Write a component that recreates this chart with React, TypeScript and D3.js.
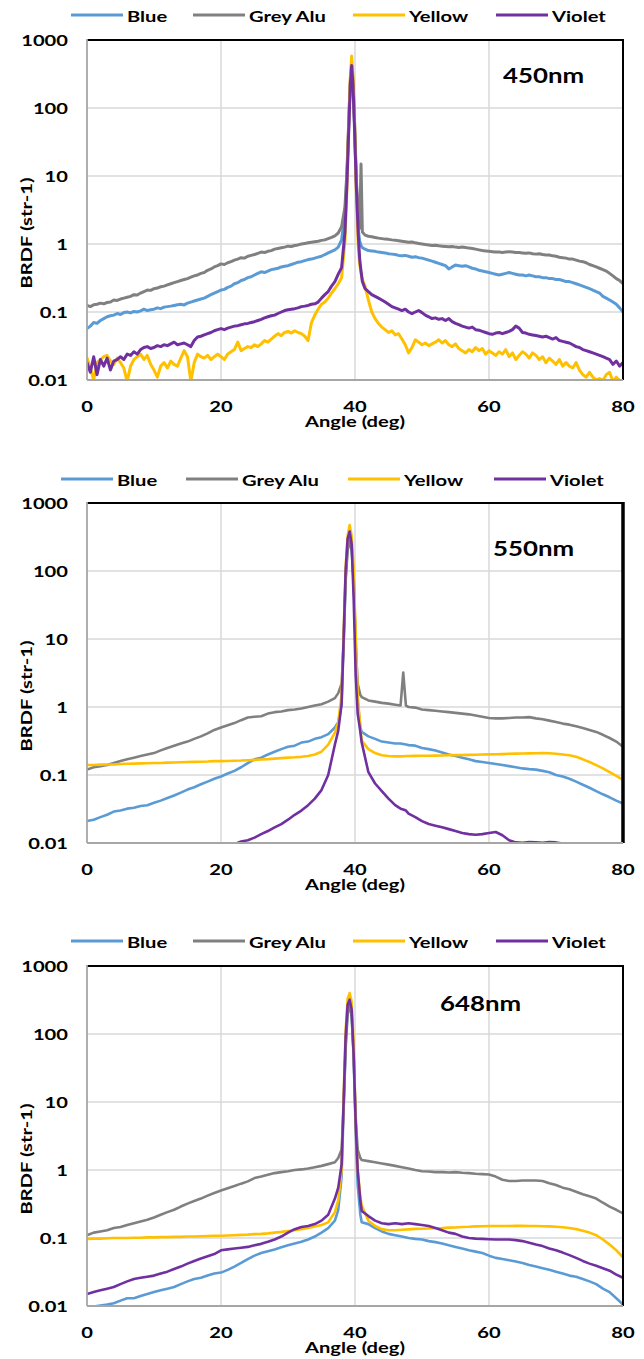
import React from "react";
import * as d3 from "d3";

// ---------- data ----------
const SERIES_NAMES = ["Blue", "Grey Alu", "Yellow", "Violet"];
const X_TICKS = [0, 20, 40, 60, 80];
const Y_TICKS = [0.01, 0.1, 1, 10, 100, 1000];
const Y_TICK_LABELS = ["0.01", "0.1", "1", "10", "100", "1000"];
const WAVELENGTHS = ["450nm", "550nm", "648nm"];

// 450 nm
const ANGLES_450 = [
  0, 0.5, 1, 1.5, 2, 2.5, 3, 3.5, 4, 4.5,
  5, 5.5, 6, 6.5, 7, 7.5, 8, 8.5, 9, 9.5,
  10, 10.5, 11, 11.5, 12, 12.5, 13, 13.5, 14, 14.5,
  15, 15.5, 16, 16.5, 17, 17.5, 18, 18.5, 19, 19.5,
  20, 20.5, 21, 21.5, 22, 22.5, 23, 23.5, 24, 24.5,
  25, 25.5, 26, 26.5, 27, 27.5, 28, 28.5, 29, 29.5,
  30, 30.5, 31, 31.5, 32, 32.5, 33, 33.5, 34, 34.5,
  35, 35.5, 36, 36.5, 37, 37.5, 38, 38.5, 38.8, 39.1,
  39.3, 39.5, 39.7, 39.9, 40.2, 40.5, 40.7, 40.9, 41.1, 41.5,
  42, 42.5, 43, 43.5, 44, 44.5, 45, 45.5, 46, 46.5,
  47, 47.5, 48, 48.5, 49, 49.5, 50, 50.5, 51, 51.5,
  52, 52.5, 53, 53.5, 54, 54.5, 55, 55.5, 56, 56.5,
  57, 57.5, 58, 58.5, 59, 59.5, 60, 60.5, 61, 61.5,
  62, 62.5, 63, 63.5, 64, 64.5, 65, 65.5, 66, 66.5,
  67, 67.5, 68, 68.5, 69, 69.5, 70, 70.5, 71, 71.5,
  72, 72.5, 73, 73.5, 74, 74.5, 75, 75.5, 76, 76.5,
  77, 77.5, 78, 78.5, 79, 79.5, 80,
];
const BLUE_450 = [
  0.057, 0.062, 0.07, 0.068, 0.075, 0.08, 0.085, 0.088, 0.09, 0.095,
  0.092, 0.098, 0.1, 0.097, 0.102, 0.1, 0.104, 0.11, 0.105, 0.108,
  0.11, 0.115, 0.112, 0.118, 0.12, 0.122, 0.125, 0.128, 0.13, 0.127,
  0.135, 0.14, 0.145, 0.15, 0.155, 0.16, 0.17, 0.18, 0.19, 0.2,
  0.21, 0.215, 0.23, 0.24, 0.26, 0.27, 0.29, 0.3, 0.32, 0.33,
  0.35, 0.37, 0.39, 0.38, 0.4, 0.42, 0.43, 0.44, 0.46, 0.47,
  0.48, 0.5, 0.52, 0.54, 0.55, 0.57, 0.59, 0.6, 0.62, 0.64,
  0.66, 0.7, 0.74, 0.78, 0.82, 0.9, 1.15, 2.8, 10, 70,
  230, 380, 230, 70, 8, 1.6, 1.1, 0.95, 0.88, 0.84,
  0.8, 0.79, 0.78, 0.76, 0.75, 0.74, 0.72, 0.71, 0.7, 0.68,
  0.67, 0.68, 0.66, 0.64, 0.65, 0.63, 0.62, 0.6, 0.58, 0.56,
  0.54, 0.52, 0.5, 0.48, 0.43, 0.46, 0.49, 0.48, 0.47, 0.48,
  0.46, 0.44, 0.43, 0.41, 0.4, 0.39, 0.38, 0.37, 0.36, 0.35,
  0.36, 0.37, 0.38, 0.37, 0.36, 0.35, 0.35, 0.34, 0.35, 0.34,
  0.33, 0.33, 0.32, 0.32, 0.31, 0.31, 0.3, 0.3, 0.29, 0.28,
  0.28, 0.27, 0.26, 0.25, 0.24, 0.23, 0.22, 0.21, 0.2, 0.19,
  0.17, 0.16, 0.15, 0.14, 0.13, 0.115, 0.1,
];
const GREY_450 = [
  0.125, 0.12, 0.128, 0.13, 0.135, 0.132, 0.138, 0.14, 0.15, 0.148,
  0.155, 0.16, 0.165, 0.17, 0.18, 0.178, 0.19, 0.2, 0.21, 0.208,
  0.22, 0.225, 0.235, 0.24, 0.25, 0.26, 0.27, 0.28, 0.29, 0.3,
  0.31, 0.325, 0.34, 0.35, 0.37, 0.38, 0.41, 0.43, 0.46, 0.48,
  0.51, 0.5, 0.53, 0.55, 0.58, 0.6, 0.63, 0.62, 0.66, 0.68,
  0.7, 0.73, 0.76, 0.75, 0.78, 0.8, 0.84, 0.86, 0.88, 0.9,
  0.93, 0.92, 0.95, 0.97, 1.0, 1.02, 1.04, 1.06, 1.08, 1.1,
  1.13, 1.15, 1.2, 1.25, 1.32, 1.45, 1.8, 3.5, 12, 80,
  260, 450, 260, 80, 9, 2.2, 1.7, 15, 1.5, 1.35,
  1.3, 1.28, 1.25, 1.22, 1.2, 1.18, 1.17, 1.15, 1.14, 1.12,
  1.1, 1.08, 1.06, 1.07, 1.04, 1.02, 1.0, 0.98, 0.97, 0.95,
  0.96, 0.94, 0.93, 0.92, 0.91, 0.92, 0.9, 0.89, 0.9, 0.89,
  0.87, 0.86, 0.84, 0.82, 0.8, 0.79, 0.78, 0.77, 0.76, 0.76,
  0.75, 0.76, 0.77, 0.76, 0.75, 0.75, 0.74, 0.73, 0.74, 0.72,
  0.71, 0.72, 0.7, 0.69, 0.69, 0.67, 0.66, 0.64, 0.63, 0.62,
  0.6, 0.6, 0.58, 0.56, 0.55, 0.53, 0.5, 0.48, 0.46, 0.44,
  0.42, 0.4, 0.37, 0.34, 0.31, 0.29, 0.26,
];
const YELLOW_450 = [
  0.021, 0.015, 0.01, 0.018, 0.02, 0.022, 0.023, 0.019, 0.017, 0.021,
  0.018, 0.015, 0.0095, 0.016, 0.02, 0.022, 0.024, 0.02, 0.023, 0.017,
  0.014, 0.011, 0.016, 0.018, 0.015, 0.019, 0.017, 0.016, 0.021, 0.027,
  0.022, 0.0095, 0.018, 0.024, 0.022, 0.021, 0.023, 0.02, 0.022, 0.024,
  0.022, 0.02, 0.024, 0.026, 0.028, 0.036, 0.027, 0.029, 0.031, 0.03,
  0.033, 0.031, 0.034, 0.038, 0.036, 0.04, 0.044, 0.048, 0.045, 0.05,
  0.052, 0.049, 0.053, 0.05, 0.048, 0.044, 0.038, 0.07, 0.09, 0.11,
  0.13, 0.14, 0.16, 0.19, 0.22, 0.26, 0.32, 1.1, 7, 80,
  280, 580, 280, 80, 6, 0.9, 0.5, 0.38, 0.3, 0.24,
  0.15, 0.1, 0.08, 0.068, 0.06, 0.055, 0.05, 0.053, 0.046, 0.048,
  0.04, 0.033, 0.025, 0.03, 0.039, 0.036, 0.033, 0.035, 0.032, 0.034,
  0.036, 0.039, 0.035, 0.038, 0.033, 0.031, 0.034, 0.029, 0.027, 0.025,
  0.028, 0.026, 0.03, 0.027, 0.029, 0.024, 0.027, 0.025, 0.023, 0.026,
  0.024, 0.028, 0.022, 0.025, 0.02, 0.023, 0.026, 0.024, 0.021, 0.025,
  0.023, 0.02, 0.022, 0.018, 0.021, 0.019, 0.017, 0.02, 0.016, 0.018,
  0.016, 0.015, 0.018, 0.014, 0.012, 0.011, 0.013, 0.011, 0.01, 0.0105,
  0.0098, 0.012, 0.013, 0.0095, 0.011, 0.0098, 0.0092,
];
const VIOLET_450 = [
  0.018, 0.013, 0.022, 0.012, 0.02, 0.016, 0.021, 0.014, 0.019, 0.02,
  0.022, 0.02, 0.024, 0.023, 0.026, 0.024, 0.028, 0.03, 0.031, 0.029,
  0.03, 0.032, 0.031, 0.033, 0.032, 0.034, 0.036, 0.033, 0.034, 0.035,
  0.033, 0.031, 0.038, 0.043, 0.044, 0.046, 0.048, 0.05, 0.053, 0.055,
  0.057, 0.055, 0.058, 0.06, 0.062, 0.063, 0.065, 0.067, 0.068, 0.07,
  0.072, 0.075, 0.078, 0.082, 0.085, 0.088, 0.09, 0.095, 0.1, 0.105,
  0.108, 0.11, 0.112, 0.115, 0.12, 0.122, 0.125, 0.13, 0.132, 0.14,
  0.16, 0.18, 0.2, 0.24, 0.28, 0.36, 0.45, 1.5, 8, 60,
  220, 420, 220, 60, 7, 1.3, 0.6, 0.4, 0.28, 0.22,
  0.2, 0.18, 0.17, 0.16, 0.15, 0.14, 0.13, 0.12, 0.115, 0.11,
  0.105, 0.11, 0.1, 0.095, 0.1, 0.105, 0.098, 0.09, 0.085, 0.08,
  0.082, 0.078, 0.08, 0.075, 0.08, 0.072, 0.068, 0.065, 0.062, 0.06,
  0.058, 0.06, 0.055, 0.054, 0.052, 0.05, 0.048, 0.047, 0.049, 0.05,
  0.048, 0.05, 0.052, 0.055, 0.062, 0.058, 0.05, 0.049, 0.047, 0.046,
  0.045, 0.044, 0.043, 0.044, 0.042, 0.04, 0.042, 0.038, 0.037, 0.036,
  0.035, 0.033, 0.031, 0.03, 0.028, 0.027, 0.026, 0.025, 0.024, 0.023,
  0.022, 0.021, 0.02, 0.017, 0.019, 0.016, 0.018,
];

// 550 nm
const ANGLES_550 = [
  0, 1, 2, 3, 4, 5, 6, 7, 8, 9,
  10, 11, 12, 13, 14, 15, 16, 17, 18, 19,
  20, 21, 22, 23, 24, 25, 26, 27, 28, 29,
  30, 31, 32, 33, 34, 35, 36, 37, 37.5, 38,
  38.3, 38.6, 38.9, 39.2, 39.5, 39.8, 40.1, 40.4, 40.8, 41,
  42, 43, 44, 45, 46, 46.8, 47.2, 47.6, 48, 49,
  50, 51, 52, 53, 54, 55, 56, 57, 58, 59,
  60, 61, 62, 63, 64, 65, 66, 67, 68, 69,
  70, 71, 72, 73, 74, 75, 76, 77, 78, 79,
  80,
];
const BLUE_550 = [
  0.021, 0.022, 0.024, 0.026, 0.029, 0.03, 0.032, 0.033, 0.035, 0.036,
  0.039, 0.042, 0.046, 0.05, 0.055, 0.061, 0.066, 0.073, 0.08, 0.088,
  0.095, 0.105, 0.115, 0.13, 0.15, 0.17, 0.18, 0.2, 0.22, 0.24,
  0.26, 0.27, 0.3, 0.31, 0.34, 0.36, 0.4, 0.5, 0.6, 1.1,
  9, 80, 230, 300, 230, 80, 9, 1.2, 0.5, 0.43,
  0.37, 0.34, 0.31, 0.3, 0.29, 0.29, 0.285, 0.28, 0.275, 0.27,
  0.25, 0.24, 0.23, 0.215, 0.2, 0.19, 0.18, 0.17, 0.16, 0.155,
  0.15, 0.145, 0.14, 0.135, 0.13, 0.125, 0.122, 0.12, 0.115, 0.11,
  0.1, 0.095, 0.088, 0.08, 0.072, 0.065, 0.058, 0.052, 0.047, 0.042,
  0.038,
];
const GREY_550 = [
  0.12, 0.13, 0.135, 0.14, 0.15, 0.16, 0.17, 0.18, 0.19, 0.2,
  0.21, 0.23, 0.25, 0.27, 0.29, 0.31, 0.34, 0.37, 0.41, 0.46,
  0.5, 0.54, 0.58, 0.64, 0.7, 0.72, 0.73, 0.8, 0.84, 0.86,
  0.9, 0.92, 0.95, 1.0, 1.05, 1.1, 1.2, 1.35, 1.6, 2.2,
  8, 70, 200, 280, 200, 70, 8, 2.2, 1.5, 1.4,
  1.25, 1.2, 1.15, 1.12, 1.08, 1.05, 3.2, 1.05, 1.0, 0.98,
  0.92, 0.9, 0.88, 0.86, 0.84, 0.82, 0.8, 0.78, 0.75, 0.72,
  0.69, 0.68, 0.68, 0.69, 0.7, 0.7, 0.71, 0.68, 0.66, 0.63,
  0.6, 0.57, 0.55, 0.52, 0.49, 0.46, 0.43, 0.39, 0.35, 0.31,
  0.26,
];
const YELLOW_550 = [
  0.14, 0.14, 0.142, 0.143, 0.143, 0.145, 0.146, 0.147, 0.148, 0.149,
  0.15, 0.15, 0.152, 0.153, 0.154, 0.155, 0.156, 0.157, 0.158, 0.16,
  0.16, 0.161, 0.162, 0.163, 0.165, 0.167, 0.169, 0.171, 0.174, 0.177,
  0.18, 0.182, 0.185, 0.19, 0.2, 0.22, 0.28, 0.42, 0.6, 1.5,
  12, 110, 330, 475, 330, 110, 12, 1.5, 0.5, 0.32,
  0.24, 0.21, 0.195, 0.19, 0.188, 0.188, 0.189, 0.19, 0.19, 0.191,
  0.192, 0.192, 0.193, 0.194, 0.195, 0.196, 0.197, 0.198, 0.199, 0.2,
  0.201, 0.202, 0.203, 0.205, 0.206, 0.207, 0.208, 0.209, 0.21, 0.209,
  0.205, 0.2, 0.195, 0.185, 0.17, 0.155, 0.14, 0.125, 0.11, 0.097,
  0.085,
];
const VIOLET_550 = [
  0.004, 0.0042, 0.0044, 0.0046, 0.0048, 0.005, 0.0052, 0.0054, 0.0056, 0.0058,
  0.006, 0.0062, 0.0065, 0.0068, 0.007, 0.0073, 0.0076, 0.008, 0.0083, 0.0087,
  0.009, 0.0093, 0.0096, 0.0105, 0.011, 0.012, 0.0135, 0.015, 0.017, 0.019,
  0.022, 0.026, 0.03, 0.036, 0.045, 0.06, 0.1, 0.28, 0.45, 1.1,
  10, 100, 300, 380, 250, 40, 3, 0.8, 0.43, 0.3,
  0.11, 0.075, 0.058, 0.045, 0.036, 0.032, 0.031, 0.03, 0.027, 0.024,
  0.021, 0.019, 0.018, 0.017, 0.016, 0.015, 0.014, 0.0135, 0.0132, 0.0135,
  0.014, 0.0145, 0.013, 0.011, 0.0102, 0.0101, 0.0103, 0.0102, 0.0101, 0.0103,
  0.0102, 0.0098, 0.009, 0.0085, 0.008, 0.0075, 0.007, 0.0065, 0.006, 0.0055,
  0.005,
];

// 648 nm
const ANGLES_648 = [
  0, 1, 2, 3, 4, 5, 6, 7, 8, 9,
  10, 11, 12, 13, 14, 15, 16, 17, 18, 19,
  20, 21, 22, 23, 24, 25, 26, 27, 28, 29,
  30, 31, 32, 33, 34, 35, 36, 37, 37.5, 38,
  38.3, 38.6, 38.9, 39.2, 39.5, 39.8, 40.1, 40.4, 40.8, 41,
  42, 43, 44, 45, 46, 47, 48, 49, 50, 51,
  52, 53, 54, 55, 56, 57, 58, 59, 60, 61,
  62, 63, 64, 65, 66, 67, 68, 69, 70, 71,
  72, 73, 74, 75, 76, 77, 78, 79, 80,
];
const BLUE_648 = [
  0.0095, 0.0098, 0.0102, 0.0105, 0.011, 0.012, 0.013, 0.013, 0.014, 0.015,
  0.016, 0.017, 0.018, 0.019, 0.021, 0.023, 0.025, 0.026, 0.028, 0.03,
  0.031, 0.034, 0.038, 0.043, 0.049, 0.055, 0.06, 0.064, 0.068, 0.073,
  0.078, 0.083, 0.088, 0.095, 0.105, 0.12, 0.14, 0.18, 0.26, 0.8,
  8, 70, 220, 280, 200, 45, 4, 0.6, 0.22, 0.17,
  0.16, 0.14, 0.125, 0.115, 0.11, 0.105, 0.1, 0.097, 0.095, 0.09,
  0.087, 0.083, 0.078, 0.074, 0.07, 0.066, 0.063, 0.06, 0.055, 0.051,
  0.049, 0.047, 0.045, 0.043, 0.04, 0.038, 0.036, 0.034, 0.032, 0.03,
  0.028, 0.027, 0.025, 0.023, 0.021, 0.018, 0.016, 0.013, 0.0105,
];
const GREY_648 = [
  0.11, 0.12, 0.125, 0.13, 0.14, 0.145, 0.155, 0.165, 0.175, 0.185,
  0.2, 0.22, 0.24, 0.26, 0.29, 0.32, 0.35, 0.38, 0.42, 0.46,
  0.5, 0.54, 0.58, 0.63, 0.68, 0.76, 0.8, 0.85, 0.9, 0.93,
  0.96, 1.0, 1.02, 1.05, 1.1, 1.15, 1.22, 1.3, 1.5, 2.0,
  8, 60, 200, 260, 180, 50, 6, 2, 1.5, 1.4,
  1.35, 1.3, 1.25, 1.2, 1.15, 1.1, 1.05, 1.0, 0.96, 0.95,
  0.93, 0.93, 0.92, 0.93, 0.91, 0.9, 0.88, 0.87, 0.86, 0.8,
  0.72, 0.69, 0.69, 0.7, 0.7, 0.7, 0.69, 0.64, 0.6, 0.55,
  0.52, 0.48, 0.44, 0.41, 0.38, 0.33, 0.29, 0.26, 0.23,
];
const YELLOW_648 = [
  0.097, 0.098, 0.098, 0.099, 0.1, 0.1, 0.1, 0.101, 0.101, 0.102,
  0.102, 0.103, 0.103, 0.104, 0.104, 0.105, 0.105, 0.106, 0.107, 0.108,
  0.108, 0.109, 0.11, 0.111, 0.112, 0.114, 0.115, 0.117, 0.12, 0.123,
  0.127, 0.13, 0.135, 0.14, 0.148, 0.155, 0.17, 0.24, 0.36, 1.0,
  12, 110, 330, 400, 300, 70, 5, 1, 0.4, 0.3,
  0.18, 0.15, 0.135, 0.13, 0.13, 0.132, 0.134, 0.136, 0.137, 0.138,
  0.139, 0.14, 0.142, 0.143, 0.145, 0.146, 0.148, 0.149, 0.15, 0.15,
  0.15, 0.15, 0.151, 0.151, 0.15, 0.15, 0.149, 0.148, 0.146, 0.144,
  0.14, 0.135, 0.128, 0.12, 0.11, 0.095, 0.08, 0.066, 0.052,
];
const VIOLET_648 = [
  0.015, 0.016, 0.017, 0.018, 0.019, 0.021, 0.023, 0.025, 0.026, 0.027,
  0.028, 0.03, 0.032, 0.035, 0.038, 0.042, 0.046, 0.05, 0.054, 0.058,
  0.066, 0.068, 0.07, 0.072, 0.074, 0.078, 0.082, 0.088, 0.095, 0.105,
  0.12, 0.135, 0.145, 0.15, 0.16, 0.18, 0.22, 0.38, 0.55, 1.2,
  10, 90, 270, 320, 230, 50, 5, 1, 0.35, 0.25,
  0.21, 0.18, 0.165, 0.16, 0.165, 0.16, 0.165, 0.16, 0.155, 0.15,
  0.14, 0.13, 0.12, 0.115, 0.105, 0.1, 0.098, 0.097, 0.096, 0.095,
  0.095, 0.095, 0.093, 0.09, 0.085, 0.08, 0.076, 0.07, 0.066, 0.061,
  0.056, 0.051, 0.046, 0.042, 0.039, 0.036, 0.033, 0.029, 0.026,
];

const PANELS = [
  { label: WAVELENGTHS[0], angles: ANGLES_450, series: [BLUE_450, GREY_450, YELLOW_450, VIOLET_450] },
  { label: WAVELENGTHS[1], angles: ANGLES_550, series: [BLUE_550, GREY_550, YELLOW_550, VIOLET_550] },
  { label: WAVELENGTHS[2], angles: ANGLES_648, series: [BLUE_648, GREY_648, YELLOW_648, VIOLET_648] },
];
PANELS.forEach((p) =>
  p.series.forEach((s, k) => {
    if (s.length !== p.angles.length)
      throw new Error(`${p.label} ${SERIES_NAMES[k]}: ${s.length} vs ${p.angles.length}`);
  })
);

// ---------- styling ----------
const COLORS = ["#5B9BD5", "#808080", "#FFC000", "#7030A0"];
const FONT = "Lato, 'Open Sans', sans-serif";
const SX = 1.26; // horizontal stretch of all labels
const FONT_SIZE = 16;
const NM_FONT_SIZE = 20.5;
const PANEL_STEP = 463;
const PLOT = { left: 87, right: 623, top: 40, bottom: 380 };
const LEGEND_X = [
  [71, 193, 353, 496],
  [61, 186, 348, 494],
  [71, 193, 353, 496],
];
const LEGEND_Y = [15, 16, 15];
const NM_POS = [
  [503, 75],
  [493, 85],
  [440, 77],
];
const LINE_W = [3, 2.6, 2.6];
const RIGHT_BORDER_W = [2, 3.5, 2];

function Label(props: {
  x: number;
  y: number;
  text: string;
  size?: number;
  anchor?: "start" | "middle" | "end";
  rotate?: number;
}) {
  const { x, y, text, size = FONT_SIZE, anchor = "start", rotate = 0 } = props;
  return (
    <text
      transform={`translate(${x},${y}) rotate(${rotate}) scale(${SX},1)`}
      textAnchor={anchor}
      dominantBaseline="central"
      fontFamily={FONT}
      fontWeight={700}
      fontSize={size}
      fill="#000"
    >
      {text}
    </text>
  );
}

function Panel({ index }: { index: number }) {
  const p = PANELS[index];
  const x = d3.scaleLinear().domain([0, 80]).range([PLOT.left, PLOT.right]);
  const y = d3.scaleLog().domain([0.01, 1000]).range([PLOT.bottom, PLOT.top]);
  const line = d3
    .line<number>()
    .x((_, i) => x(p.angles[i]))
    .y((v) => y(v));
  const clipId = `plot-clip-${index}`;
  const w = PLOT.right - PLOT.left;
  const h = PLOT.bottom - PLOT.top;

  return (
    <g transform={`translate(0,${index * PANEL_STEP})`}>
      <defs>
        <clipPath id={clipId}>
          <rect x={PLOT.left} y={PLOT.top} width={w} height={h} />
        </clipPath>
      </defs>

      {/* legend */}
      {SERIES_NAMES.map((name, k) => {
        const lx = LEGEND_X[index][k];
        const ly = LEGEND_Y[index];
        return (
          <g key={name}>
            <line x1={lx} x2={lx + 52} y1={ly} y2={ly} stroke={COLORS[k]} strokeWidth={3} />
            <Label x={lx + 56} y={ly + 0.5} text={name} />
          </g>
        );
      })}

      {/* grid */}
      {X_TICKS.slice(1, -1).map((t) => (
        <line key={`gx${t}`} x1={x(t)} x2={x(t)} y1={PLOT.top} y2={PLOT.bottom} stroke="#d9d9d9" strokeWidth={1.5} />
      ))}
      {Y_TICKS.slice(1, -1).map((t) => (
        <line key={`gy${t}`} x1={PLOT.left} x2={PLOT.right} y1={y(t)} y2={y(t)} stroke="#d9d9d9" strokeWidth={1.5} />
      ))}

      {/* series */}
      <g clipPath={`url(#${clipId})`}>
        {p.series.map((s, k) => (
          <path
            key={SERIES_NAMES[k]}
            d={line(s) ?? ""}
            fill="none"
            stroke={COLORS[k]}
            strokeWidth={LINE_W[index]}
            strokeLinejoin="round"
            strokeLinecap="round"
          />
        ))}
      </g>

      {/* frame */}
      <line x1={PLOT.left} x2={PLOT.right} y1={PLOT.top} y2={PLOT.top} stroke="#000" strokeWidth={2} />
      <line x1={PLOT.right} x2={PLOT.right} y1={PLOT.top - 1} y2={PLOT.bottom} stroke="#000" strokeWidth={RIGHT_BORDER_W[index]} />
      <line x1={PLOT.left} x2={PLOT.left} y1={PLOT.top - 1} y2={PLOT.bottom} stroke="#a6a6a6" strokeWidth={1.8} />
      <line x1={PLOT.left} x2={PLOT.right} y1={PLOT.bottom} y2={PLOT.bottom} stroke="#a6a6a6" strokeWidth={1.8} />

      {/* tick labels */}
      {Y_TICKS.map((t, k) => (
        <Label key={`ty${t}`} x={68} y={y(t)} text={Y_TICK_LABELS[k]} anchor="end" />
      ))}
      {X_TICKS.map((t) => (
        <Label key={`tx${t}`} x={x(t)} y={406} text={String(t)} anchor="middle" />
      ))}

      {/* axis titles */}
      <Label x={(PLOT.left + PLOT.right) / 2} y={421} text="Angle (deg)" anchor="middle" />
      <Label x={26} y={233} text="BRDF (str-1)" anchor="middle" rotate={-90} />

      {/* wavelength */}
      <Label x={NM_POS[index][0]} y={NM_POS[index][1]} text={p.label} size={NM_FONT_SIZE} />
    </g>
  );
}

export default function App() {
  return (
    <svg
      width={644}
      height={1359}
      viewBox="0 0 644 1359"
      style={{ position: "absolute", left: 0, top: 0, background: "#fff" }}
    >
      <rect width={644} height={1359} fill="#fff" />
      {PANELS.map((_, i) => (
        <Panel key={i} index={i} />
      ))}
    </svg>
  );
}
